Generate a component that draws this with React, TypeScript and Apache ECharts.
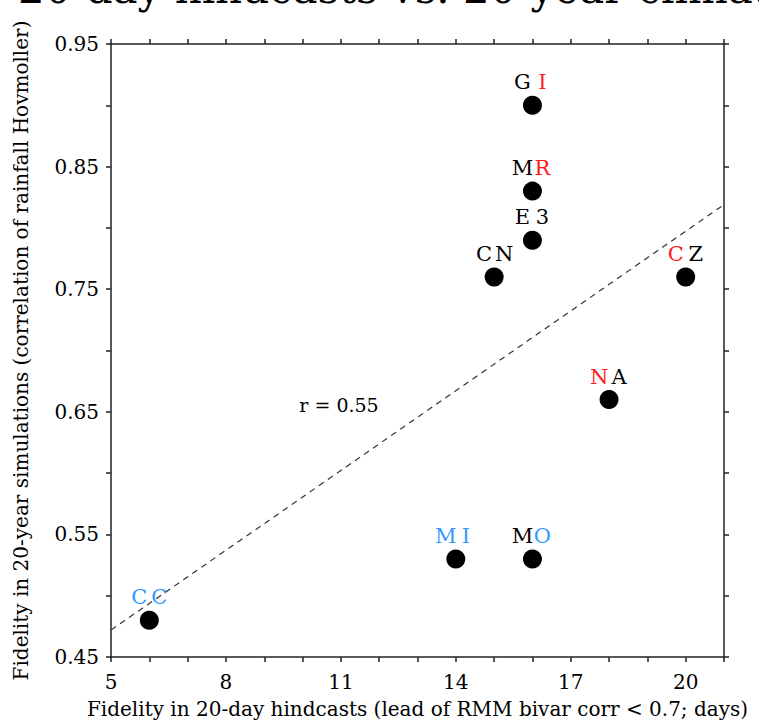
import React, { useEffect, useRef } from "react";
import * as echarts from "echarts";

const modelNames = ["CC", "MI", "MO", "CN", "E3", "MR", "GI", "NA", "CZ"];
const hindcastLead = [6, 14, 16, 15, 16, 16, 16, 18, 20];
const simFidelity = [0.48, 0.53, 0.53, 0.76, 0.79, 0.83, 0.9, 0.66, 0.76];
// colour key per letter: k = black, r = red, b = blue
const letterColours = [
  ["b", "b"],
  ["b", "b"],
  ["k", "b"],
  ["k", "k"],
  ["k", "k"],
  ["k", "r"],
  ["k", "r"],
  ["r", "k"],
  ["r", "k"],
];
const fitLineX = [5, 21];
const fitLineY = [0.472, 0.819];
const xTickLabels = [5, 8, 11, 14, 17, 20];
const yTickLabels = [0.45, 0.55, 0.65, 0.75, 0.85, 0.95];
const corrText = "r = 0.55";

const FONT = "'DejaVu Serif', serif";

export default function App() {
  const ref = useRef<HTMLDivElement>(null);
  useEffect(() => {
    if (!ref.current) return;
    const chart = echarts.init(ref.current, null, { renderer: "svg" });
    const letterStyle = (c: string) => ({
      color: c,
      fontFamily: FONT,
      fontSize: 21,
      width: 20,
      align: "center" as const,
      opacity: 1,
    });
    const axisLineStyle = { color: "#222", width: 1.5 };
    const grid = { left: 111, top: 44, right: 35, bottom: 68 };
    const option: any = {
      animation: false,
      backgroundColor: "#fff",
      grid,
      graphic: [
        {
          type: "text",
          left: 18,
          top: -33,
          style: {
            text: "20-day hindcasts vs. 20-year climate",
            font: `42px ${FONT}`,
            fill: "#000",
          },
        },
        {
          type: "text",
          x: 339,
          y: 405,
          style: {
            text: corrText,
            font: `19px ${FONT}`,
            fill: "#000",
            align: "center",
            verticalAlign: "middle",
          },
        },
      ],
      xAxis: [
        {
          type: "value",
          position: "bottom",
          min: 5,
          max: 21,
          interval: 3,
          axisLine: { show: true, lineStyle: axisLineStyle },
          axisTick: { show: false },
          splitLine: { show: false },
          axisLabel: {
            margin: 15,
            fontFamily: FONT,
            fontSize: 20,
            color: "#000",
            formatter: (v: number) => (xTickLabels.includes(v) ? String(v) : ""),
          },
          name: "Fidelity in 20-day hindcasts (lead of RMM bivar corr < 0.7; days)",
          nameLocation: "middle",
          nameGap: 42,
          nameTextStyle: { fontFamily: FONT, fontSize: 20, color: "#000" },
        },
        {
          type: "value",
          position: "bottom",
          min: 5,
          max: 21,
          interval: 1,
          axisLine: { show: false },
          axisTick: { show: true, inside: false, length: 5, lineStyle: axisLineStyle },
          axisLabel: { show: false },
          splitLine: { show: false },
        },
        {
          type: "value",
          position: "top",
          min: 5,
          max: 21,
          interval: 1,
          axisLine: { show: true, lineStyle: axisLineStyle },
          axisTick: { show: true, inside: false, length: 5, lineStyle: axisLineStyle },
          axisLabel: { show: false },
          splitLine: { show: false },
        },
      ],
      yAxis: [
        {
          type: "value",
          position: "left",
          min: 0.45,
          max: 0.95,
          interval: 0.1,
          axisLine: { show: true, lineStyle: axisLineStyle },
          axisTick: { show: false },
          splitLine: { show: false },
          axisLabel: {
            margin: 12,
            fontFamily: FONT,
            fontSize: 20,
            color: "#000",
            formatter: (v: number) => {
              const s = v.toFixed(2);
              return yTickLabels.map((t) => t.toFixed(2)).includes(s) ? s : "";
            },
          },
          name: "Fidelity in 20-year simulations (correlation of rainfall Hovmoller)",
          nameLocation: "middle",
          nameGap: 80,
          nameTextStyle: { fontFamily: FONT, fontSize: 20, color: "#000" },
        },
        {
          type: "value",
          position: "left",
          min: 0.45,
          max: 0.95,
          interval: 0.05,
          axisLine: { show: false },
          axisTick: { show: true, inside: false, length: 5, lineStyle: axisLineStyle },
          axisLabel: { show: false },
          splitLine: { show: false },
        },
        {
          type: "value",
          position: "right",
          min: 0.45,
          max: 0.95,
          interval: 0.05,
          axisLine: { show: true, lineStyle: axisLineStyle },
          axisTick: { show: true, inside: false, length: 5, lineStyle: axisLineStyle },
          axisLabel: { show: false },
          splitLine: { show: false },
        },
      ],
      series: [
        {
          type: "line",
          xAxisIndex: 0,
          yAxisIndex: 0,
          data: fitLineX.map((x, i) => [x, fitLineY[i]]),
          symbol: "none",
          lineStyle: { color: "#333", width: 1.2, type: [6, 5] },
          silent: true,
          z: 1,
        },
        {
          type: "scatter",
          xAxisIndex: 0,
          yAxisIndex: 0,
          symbol: "circle",
          symbolSize: 19,
          itemStyle: { color: "#000", opacity: 1 },
          data: modelNames.map((n, i) => ({
            value: [hindcastLead[i], simFidelity[i]],
            name: n,
          })),
          label: {
            show: true,
            position: "top",
            distance: 3,
            opacity: 1,
            formatter: (p: any) => {
              const i = p.dataIndex;
              const n = modelNames[i];
              return `{${letterColours[i][0]}|${n[0]}}{${letterColours[i][1]}|${n[1]}}`;
            },
            rich: {
              k: letterStyle("#000"),
              r: letterStyle("#ff1a1a"),
              b: letterStyle("#3399ff"),
            },
          },
          z: 3,
        },
      ],
    };
    chart.setOption(option);
    return () => chart.dispose();
  }, []);
  return (
    <div
      ref={ref}
      style={{ position: "fixed", left: 0, top: 0, width: 759, height: 725, background: "#fff" }}
    />
  );
}
